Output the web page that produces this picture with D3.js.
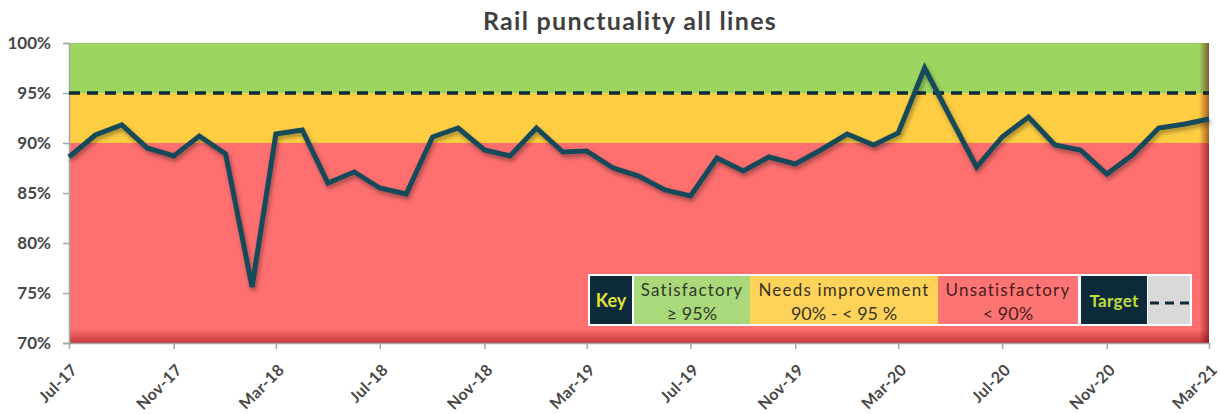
<!DOCTYPE html>
<html><head><meta charset="utf-8">
<script src="https://cdn.jsdelivr.net/npm/d3@7"></script>
<style>
html,body{margin:0;padding:0;background:#fff;}
svg{display:block;font-family:Lato,"Open Sans",sans-serif;}
</style></head>
<body>
<svg id="chart" width="1220" height="414"></svg>
<script>
// ---- data ----
const startMonth = "2017-07";
const punctuality = [88.6, 90.8, 91.8, 89.5, 88.7, 90.7, 88.9, 75.6, 90.9, 91.3, 86.0, 87.1,
  85.5, 84.9, 90.6, 91.5, 89.3, 88.7, 91.5, 89.1, 89.2, 87.5, 86.7, 85.3,
  84.7, 88.5, 87.2, 88.6, 87.9, 89.3, 90.9, 89.8, 91.0, 97.5, 92.6, 87.6,
  90.6, 92.6, 89.8, 89.3, 86.9, 88.8, 91.5, 91.9, 92.4];
const target = 95;
const bandLimits = [[95, 100], [90, 95], [70, 90]];
const bandNames = ["Satisfactory", "Needs improvement", "Unsatisfactory"];
const bandRanges = ["\u2265 95%", "90% - < 95 %", "< 90%"];
const yTicks = [70, 75, 80, 85, 90, 95, 100];
const title = "Rail punctuality all lines";

// ---- styles ----
const bandColors = ["#9dd561", "#fecd42", "#fe6f6f"];
const legendColors = ["#a9d97b", "#fed35a", "#fd7474"];
const legendTextColors = ["#2f3a28", "#3a3320", "#4a1c1c"];
const navy = "#0c2a3a";

const svg = d3.select("#chart");
const margin = {left: 69, right: 11, top: 43, bottom: 71};
const W = 1220, H = 414;
const x0 = margin.left, x1 = W - margin.right, y0 = margin.top, y1 = H - margin.bottom;

const parse = d3.timeParse("%Y-%m");
const start = parse(startMonth);
const data = punctuality.map((v, i) => ({date: d3.timeMonth.offset(start, i), v}));

const x = d3.scaleTime().domain(d3.extent(data, d => d.date)).range([x0, x1]);
const y = d3.scaleLinear().domain([70, 100]).range([y1, y0]);

const defs = svg.append("defs");
const gr = defs.append("linearGradient").attr("id", "rightShade").attr("x1", 0).attr("x2", 1).attr("y1", 0).attr("y2", 0);
gr.append("stop").attr("offset", "0%").attr("stop-color", "#600").attr("stop-opacity", 0);
gr.append("stop").attr("offset", "100%").attr("stop-color", "#600").attr("stop-opacity", 0.55);
const gb = defs.append("linearGradient").attr("id", "bottomShade").attr("x1", 0).attr("x2", 0).attr("y1", 0).attr("y2", 1);
gb.append("stop").attr("offset", "0%").attr("stop-color", "#b02828").attr("stop-opacity", 0);
gb.append("stop").attr("offset", "100%").attr("stop-color", "#b02828").attr("stop-opacity", 0.75);
const f = defs.append("filter").attr("id", "shadow").attr("x", "-5%").attr("y", "-10%").attr("width", "110%").attr("height", "130%");
f.append("feDropShadow").attr("dx", 1.5).attr("dy", 3).attr("stdDeviation", 2).attr("flood-color", "#000").attr("flood-opacity", 0.35);

// bands
svg.selectAll("rect.band").data(bandLimits).join("rect")
  .attr("class", "band")
  .attr("x", x0).attr("width", x1 - x0)
  .attr("y", d => y(d[1])).attr("height", d => y(d[0]) - y(d[1]))
  .attr("fill", (d, i) => bandColors[i]);
// bevel shading
svg.append("rect").attr("x", x0).attr("width", x1 - x0).attr("y", y1 - 14).attr("height", 14).attr("fill", "url(#bottomShade)");
svg.append("rect").attr("x", x1 - 10).attr("width", 10).attr("y", y0).attr("height", y1 - y0).attr("fill", "url(#rightShade)");

// axes
const yAxis = d3.axisLeft(y).tickValues(yTicks).tickFormat(d => d + "%").tickSize(6).tickPadding(12);
const gy = svg.append("g").attr("transform", `translate(${x0},0)`).call(yAxis);
gy.select(".domain").attr("stroke", "#a6a6a6").attr("stroke-width", 1.5);
gy.selectAll(".tick line").attr("stroke", "#a6a6a6").attr("stroke-width", 1.5);
gy.selectAll(".tick text").attr("font-size", 17).attr("font-weight", 700).attr("fill", "#474747").attr("font-family", "Lato");

const xTickDates = d3.range(0, punctuality.length, 4).map(i => data[i].date);
const xAxis = d3.axisBottom(x).tickValues(xTickDates).tickFormat(d3.timeFormat("%b-%y")).tickSize(6).tickSizeOuter(0);
const gx = svg.append("g").attr("transform", `translate(0,${y1})`).call(xAxis);
gx.select(".domain").attr("stroke", "#a6a6a6").attr("stroke-width", 1.5);
gx.selectAll(".tick line").attr("stroke", "#a6a6a6").attr("stroke-width", 1.5);
gx.selectAll(".tick text")
  .attr("font-size", 16).attr("font-weight", 700).attr("letter-spacing", 0.4).attr("fill", "#474747").attr("font-family", "Lato")
  .attr("text-anchor", "end")
  .attr("transform", "translate(1,20) rotate(-45)")
  .attr("dx", "0").attr("dy", "0.7em").attr("y", 0);

// target line
svg.append("line")
  .attr("x1", x0).attr("x2", x1).attr("y1", y(target)).attr("y2", y(target))
  .attr("stroke", navy).attr("stroke-width", 3.5).attr("stroke-dasharray", "11,7");

// data line
const line = d3.line().x(d => x(d.date)).y(d => y(d.v));
svg.append("path").datum(data)
  .attr("d", line).attr("fill", "none")
  .attr("stroke", "#184a5a").attr("stroke-width", 5).attr("stroke-linejoin", "miter")
  .attr("filter", "url(#shadow)");

// title
svg.append("text").attr("x", 630).attr("y", 30).attr("text-anchor", "middle")
  .attr("font-size", 25).attr("font-weight", 700).attr("letter-spacing", 1.3).attr("fill", "#404040").attr("font-family", "Lato")
  .text(title);

// legend
const lg = svg.append("g");
lg.append("rect").attr("x", 588).attr("y", 274).attr("width", 604).attr("height", 52).attr("fill", "#fff");
lg.append("rect").attr("x", 590).attr("y", 276).attr("width", 42).attr("height", 48).attr("fill", navy);
lg.append("text").attr("x", 611).attr("y", 307).attr("text-anchor", "middle")
  .attr("font-size", 18).attr("font-weight", 700).attr("fill", "#e3e23a").text("Key");
const cells = [[634, 116], [750, 188], [938, 140]];
cells.forEach((c, i) => {
  lg.append("rect").attr("x", c[0]).attr("y", 276).attr("width", c[1]).attr("height", 48).attr("fill", legendColors[i]);
  lg.append("text").attr("x", c[0] + c[1] / 2).attr("y", 296).attr("text-anchor", "middle")
    .attr("font-size", 17).attr("letter-spacing", 1.2).attr("fill", legendTextColors[i]).text(bandNames[i]);
  lg.append("text").attr("x", c[0] + c[1] / 2).attr("y", 320).attr("text-anchor", "middle")
    .attr("font-size", 18).attr("fill", legendTextColors[i]).text(bandRanges[i]);
});
lg.append("rect").attr("x", 1081).attr("y", 276).attr("width", 66).attr("height", 48).attr("fill", navy);
lg.append("text").attr("x", 1114).attr("y", 307).attr("text-anchor", "middle")
  .attr("font-size", 17).attr("font-weight", 700).attr("letter-spacing", 0.3).attr("fill", "#c2dc3a").text("Target");
lg.append("rect").attr("x", 1148).attr("y", 276).attr("width", 42).attr("height", 48).attr("fill", "#d9d9d9");
lg.append("line").attr("x1", 1150).attr("x2", 1190).attr("y1", 303).attr("y2", 303)
  .attr("stroke", navy).attr("stroke-width", 3).attr("stroke-dasharray", "9,6");
</script>
</body></html>
